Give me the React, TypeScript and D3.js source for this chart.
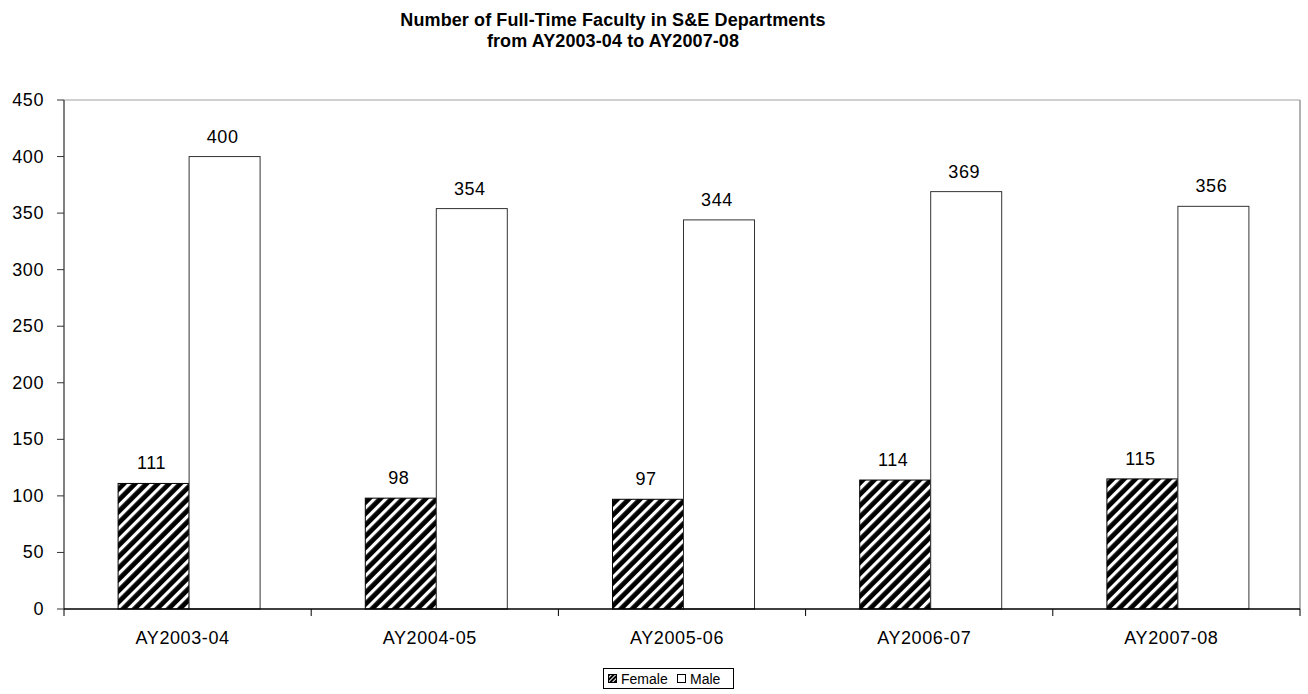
import React from "react";
import * as d3 from "d3";

const categories = ["AY2003-04", "AY2004-05", "AY2005-06", "AY2006-07", "AY2007-08"];
const female = [111, 98, 97, 114, 115];
const male = [400, 354, 344, 369, 356];
const yTicks = [0, 50, 100, 150, 200, 250, 300, 350, 400, 450];
const seriesNames = ["Female", "Male"];

const W = 1308, H = 694;
const M = { left: 64, right: 1300, top: 100, bottom: 609 };
const FONT = "'Liberation Sans', Arial, sans-serif";

export default function App() {
  const x = d3.scaleBand<string>().domain(categories).range([M.left, M.right]).paddingInner(0).paddingOuter(0);
  const y = d3.scaleLinear().domain([0, 450]).range([M.bottom, M.top]);
  const bw = x.bandwidth();
  const barW = 71;
  const inner = d3.scaleBand<string>().domain(seriesNames).range([0, barW * 2]);
  const LS = 0.6;

  return (
    <svg width={W} height={H} style={{ position: "absolute", left: 0, top: 0 }} fontFamily={FONT}>
      <defs>
        <pattern id="hatch" patternUnits="userSpaceOnUse" width="8" height="8" patternTransform="rotate(45)">
          <rect x="0" y="0" width="8" height="8" fill="#000" />
          <rect x="0" y="0" width="3.2" height="8" fill="#fff" />
        </pattern>
        <pattern id="hatchSmall" patternUnits="userSpaceOnUse" width="3" height="3" patternTransform="rotate(45)">
          <rect x="0" y="0" width="3" height="3" fill="#000" />
          <rect x="0" y="0" width="1" height="3" fill="#fff" />
        </pattern>
      </defs>
      <rect width={W} height={H} fill="#fff" />
      <text x={613} y={26} textAnchor="middle" fontSize={18} fontWeight="bold" letterSpacing={0.1}>
        Number of Full-Time Faculty in S&amp;E Departments
      </text>
      <text x={613} y={47} textAnchor="middle" fontSize={18} fontWeight="bold" letterSpacing={0.1}>
        from AY2003-04 to AY2007-08
      </text>

      {/* plot frame */}
      <line x1={M.left} x2={M.right} y1={M.top} y2={M.top} stroke="#c0c0c0" strokeWidth={1.5} />
      <line x1={M.right} x2={M.right} y1={M.top} y2={M.bottom} stroke="#999" strokeWidth={1.5} />

      {/* y axis */}
      <line x1={M.left} x2={M.left} y1={M.top} y2={M.bottom} stroke="#555" strokeWidth={1.5} />
      {yTicks.map((t) => (
        <g key={t}>
          <line x1={M.left - 7} x2={M.left} y1={y(t)} y2={y(t)} stroke="#333" />
          <text x={44} y={y(t) + 6} textAnchor="end" fontSize={18} letterSpacing={LS}>{t}</text>
        </g>
      ))}

      {/* bars */}
      {categories.map((c, i) => {
        const gx = x(c)! + (bw - barW * 2) / 2 + 1.5;
        return (
          <g key={c}>
            <rect x={gx + inner("Female")!} y={y(female[i])} width={barW} height={y(0) - y(female[i])}
              fill="url(#hatch)" stroke="#000" strokeWidth={1} />
            <rect x={gx + inner("Male")!} y={y(male[i])} width={barW} height={y(0) - y(male[i])}
              fill="#fff" stroke="#333" strokeWidth={1} />
            <text x={gx + inner("Female")! + barW / 2 - 2} y={y(female[i]) - 14} textAnchor="middle" fontSize={18} letterSpacing={LS}>{female[i]}</text>
            <text x={gx + inner("Male")! + barW / 2 - 2} y={y(male[i]) - 14} textAnchor="middle" fontSize={18} letterSpacing={LS}>{male[i]}</text>
            <text x={x(c)! + bw / 2 - 5} y={644} textAnchor="middle" fontSize={18} letterSpacing={LS}>{c}</text>
          </g>
        );
      })}

      {/* x axis */}
      <line x1={M.left} x2={M.right} y1={M.bottom} y2={M.bottom} stroke="#000" strokeWidth={1.5} />
      {[...categories.map((c) => x(c)!), M.right].map((t, i) => (
        <line key={i} x1={t} x2={t} y1={M.bottom} y2={M.bottom + 7} stroke="#000" />
      ))}

      {/* legend */}
      <rect x={603.5} y={668.5} width={130} height={20} fill="#fff" stroke="#000" />
      <rect x={608.5} y={674.5} width={8} height={8} fill="url(#hatchSmall)" stroke="#000" strokeWidth={1} />
      <text x={621} y={684} fontSize={14}>Female</text>
      <rect x={677.5} y={674.5} width={8} height={8} fill="#fff" stroke="#000" strokeWidth={1} />
      <text x={690} y={684} fontSize={14}>Male</text>
    </svg>
  );
}
